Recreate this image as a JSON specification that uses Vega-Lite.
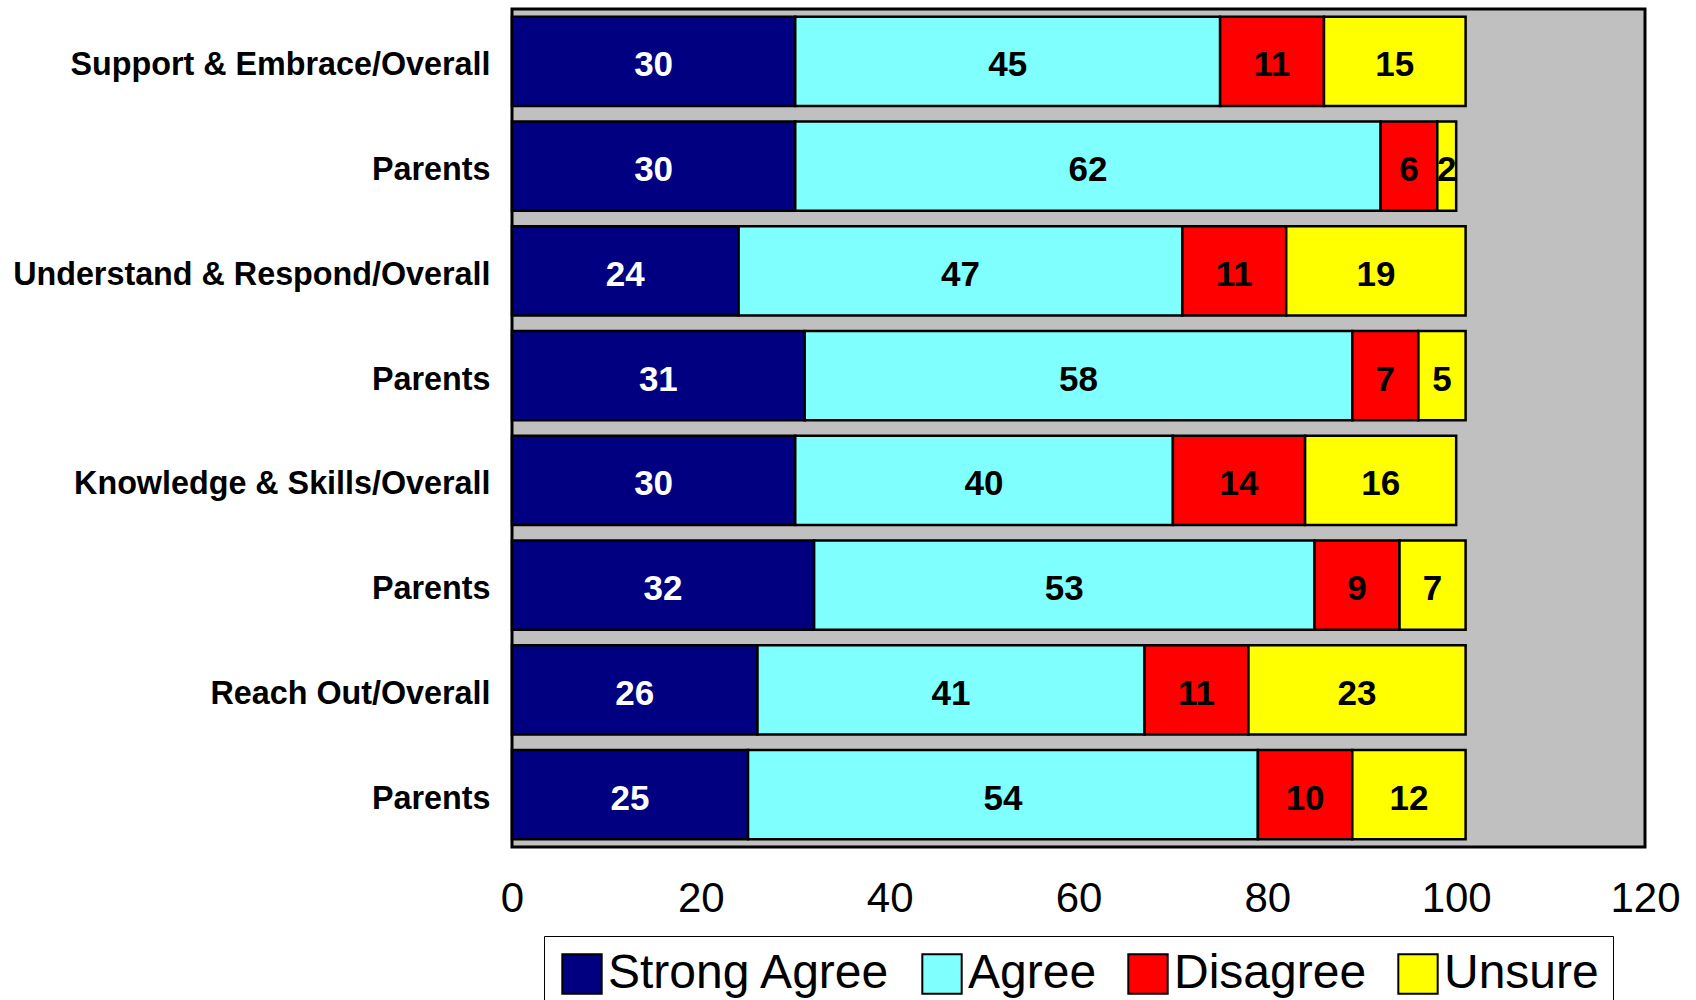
{
  "$schema": "https://vega.github.io/schema/vega-lite/v6.json",
  "width": 1133,
  "height": 838,
  "autosize": {"type": "none"},
  "padding": {"left": 512, "top": 9, "right": 51, "bottom": 153},
  "background": "white",
  "config": {
    "font": "Liberation Sans",
    "view": {"fill": "#c0c0c0", "stroke": "black", "strokeWidth": 3}
  },
  "data": {
    "values": [
      {"key": "Support & Embrace/Overall", "category": "Strong Agree", "ord": 1, "value": 30},
      {"key": "Support & Embrace/Overall", "category": "Agree", "ord": 2, "value": 45},
      {"key": "Support & Embrace/Overall", "category": "Disagree", "ord": 3, "value": 11},
      {"key": "Support & Embrace/Overall", "category": "Unsure", "ord": 4, "value": 15},
      {"key": "Parents|1", "category": "Strong Agree", "ord": 1, "value": 30},
      {"key": "Parents|1", "category": "Agree", "ord": 2, "value": 62},
      {"key": "Parents|1", "category": "Disagree", "ord": 3, "value": 6},
      {"key": "Parents|1", "category": "Unsure", "ord": 4, "value": 2},
      {"key": "Understand & Respond/Overall", "category": "Strong Agree", "ord": 1, "value": 24},
      {"key": "Understand & Respond/Overall", "category": "Agree", "ord": 2, "value": 47},
      {"key": "Understand & Respond/Overall", "category": "Disagree", "ord": 3, "value": 11},
      {"key": "Understand & Respond/Overall", "category": "Unsure", "ord": 4, "value": 19},
      {"key": "Parents|2", "category": "Strong Agree", "ord": 1, "value": 31},
      {"key": "Parents|2", "category": "Agree", "ord": 2, "value": 58},
      {"key": "Parents|2", "category": "Disagree", "ord": 3, "value": 7},
      {"key": "Parents|2", "category": "Unsure", "ord": 4, "value": 5},
      {"key": "Knowledge & Skills/Overall", "category": "Strong Agree", "ord": 1, "value": 30},
      {"key": "Knowledge & Skills/Overall", "category": "Agree", "ord": 2, "value": 40},
      {"key": "Knowledge & Skills/Overall", "category": "Disagree", "ord": 3, "value": 14},
      {"key": "Knowledge & Skills/Overall", "category": "Unsure", "ord": 4, "value": 16},
      {"key": "Parents|3", "category": "Strong Agree", "ord": 1, "value": 32},
      {"key": "Parents|3", "category": "Agree", "ord": 2, "value": 53},
      {"key": "Parents|3", "category": "Disagree", "ord": 3, "value": 9},
      {"key": "Parents|3", "category": "Unsure", "ord": 4, "value": 7},
      {"key": "Reach Out/Overall", "category": "Strong Agree", "ord": 1, "value": 26},
      {"key": "Reach Out/Overall", "category": "Agree", "ord": 2, "value": 41},
      {"key": "Reach Out/Overall", "category": "Disagree", "ord": 3, "value": 11},
      {"key": "Reach Out/Overall", "category": "Unsure", "ord": 4, "value": 23},
      {"key": "Parents|4", "category": "Strong Agree", "ord": 1, "value": 25},
      {"key": "Parents|4", "category": "Agree", "ord": 2, "value": 54},
      {"key": "Parents|4", "category": "Disagree", "ord": 3, "value": 10},
      {"key": "Parents|4", "category": "Unsure", "ord": 4, "value": 12}
    ]
  },
  "transform": [
    {"stack": "value", "groupby": ["key"], "sort": [{"field": "ord", "order": "ascending"}], "as": ["x0", "x1"]}
  ],
  "encoding": {
    "y": {
      "field": "key",
      "type": "nominal",
      "sort": null,
      "title": null,
      "scale": {"paddingInner": 0.15, "paddingOuter": 0.075},
      "axis": {
        "domain": false,
        "ticks": false,
        "labelExpr": "split(datum.value, '|')[0]",
        "labelFont": "Liberation Sans",
        "labelFontSize": 32.3,
        "labelFontWeight": "bold",
        "labelColor": "black",
        "labelPadding": 22,
        "labelOffset": 4,
        "labelLimit": 0
      }
    }
  },
  "layer": [
    {
      "mark": {"type": "bar", "stroke": "black", "strokeWidth": 2.5},
      "encoding": {
        "x": {
          "field": "x0",
          "type": "quantitative",
          "title": null,
          "scale": {"domain": [0, 120], "nice": false},
          "axis": {
            "values": [0, 20, 40, 60, 80, 100, 120],
            "domain": false,
            "grid": false,
            "ticks": false,
            "labelFont": "Liberation Sans",
            "labelFontSize": 42,
            "labelColor": "black",
            "labelPadding": 31,
            "labelOverlap": false,
            "labelFlush": false,
            "labelBound": false
          }
        },
        "x2": {"field": "x1"},
        "color": {
          "field": "category",
          "type": "nominal",
          "scale": {
            "domain": ["Strong Agree", "Agree", "Disagree", "Unsure"],
            "range": ["#000080", "#80ffff", "#ff0000", "#ffff00"]
          },
          "legend": {
            "title": null,
            "orient": "none",
            "legendX": 32,
            "legendY": 927,
            "direction": "horizontal",
            "strokeColor": "black",
            "fillColor": "white",
            "padding": 14,
            "symbolType": "square",
            "symbolSize": 1550,
            "symbolStrokeColor": "black",
            "symbolStrokeWidth": 2,
            "symbolOpacity": 1,
            "labelFont": "Liberation Sans",
            "labelFontSize": 48,
            "labelColor": "black",
            "labelOffset": 2,
            "labelLimit": 0,
            "columnPadding": 27
          }
        }
      }
    },
    {
      "transform": [
        {"fold": ["x0", "x1"], "as": ["edge", "pos"]}
      ],
      "mark": {"type": "text", "font": "Liberation Sans", "fontSize": 35, "fontWeight": "bold", "baseline": "middle", "align": "center", "dy": 4},
      "encoding": {
        "x": {"aggregate": "mean", "field": "pos", "type": "quantitative"},
        "text": {"aggregate": "max", "field": "value", "type": "quantitative"},
        "detail": {"field": "category", "type": "nominal"},
        "color": {
          "condition": {"test": "datum.category == 'Strong Agree'", "value": "white"},
          "value": "black"
        }
      }
    }
  ]
}
